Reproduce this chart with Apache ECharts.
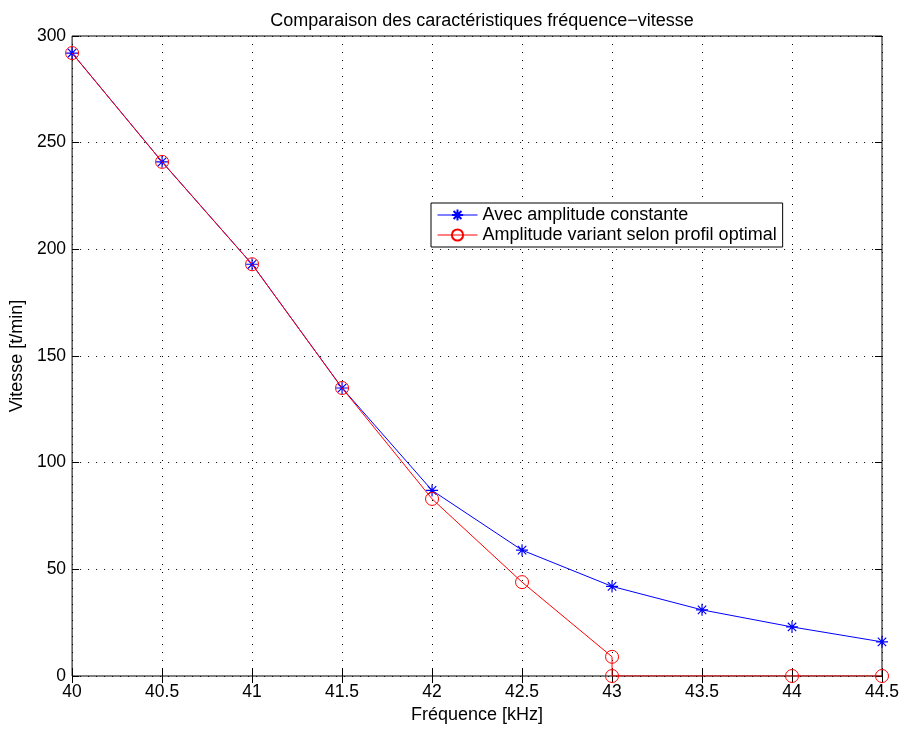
<!DOCTYPE html>
<html>
<head>
<meta charset="utf-8">
<script src="https://cdn.jsdelivr.net/npm/echarts@6/dist/echarts.min.js"></script>
<style>
  html, body { margin: 0; padding: 0; background: #fff; }
  #chart { width: 903px; height: 729px; }
</style>
</head>
<body>
<div id="chart"></div>
<script>
// Frequency (kHz) vs speed (t/min)
const freqConst = [40, 40.5, 41, 41.5, 42, 42.5, 43, 43.5, 44, 44.5];
const speedConst = [292, 241, 193, 135, 87, 59, 42, 31, 23, 16];

const freqOpt = [40, 40.5, 41, 41.5, 42, 42.5, 43, 43, 44, 44.5];
const speedOpt = [292, 241, 193, 135, 83, 44, 9, 0, 0, 0];

const xTicks = [40, 40.5, 41, 41.5, 42, 42.5, 43, 43.5, 44, 44.5];
const yTicks = [0, 50, 100, 150, 200, 250, 300];

const seriesNames = ['Avec amplitude constante', 'Amplitude variant selon profil optimal'];

const FONT = 'Liberation Sans, Arial, sans-serif';
const asterisk = 'path://M0,-10L0,10M-10,0L10,0M-7,-7L7,7M-7,7L7,-7';

const pairs = (xs, ys) => xs.map((x, i) => [x, ys[i]]);

const chart = echarts.init(document.getElementById('chart'), null, { renderer: 'canvas' });

const tickLabels = {
  color: '#000', fontFamily: FONT, fontSize: 17.5
};

chart.setOption({
  animation: false,
  backgroundColor: '#fff',
  title: {
    text: 'Comparaison des caractéristiques fréquence\u2212vitesse',
    left: 477, top: 7, textAlign: 'center',
    textStyle: { fontFamily: FONT, fontSize: 18, fontWeight: 'normal', color: '#000' }
  },
  grid: {
    left: 72, right: 21, top: 36, bottom: 53,
    show: true, borderColor: '#000', borderWidth: 1, backgroundColor: '#fff'
  },
  legend: {
    orient: 'vertical',
    left: 431, top: 203,
    padding: [3, 6, 3, 6],
    itemGap: 2,
    itemWidth: 40, itemHeight: 14,
    backgroundColor: '#fff',
    borderColor: '#000', borderWidth: 1,
    lineStyle: { width: 1 },
    textStyle: { fontFamily: FONT, fontSize: 18, color: '#000' },
    data: seriesNames
  },
  xAxis: [{
    type: 'value', min: 40, max: 44.5, interval: 0.5,
    name: 'Fréquence [kHz]', nameLocation: 'middle', nameGap: 29,
    nameTextStyle: { fontFamily: FONT, fontSize: 18, color: '#000' },
    axisLine: { show: false },
    axisTick: { show: true, inside: true, length: 7, lineStyle: { color: '#000' } },
    axisLabel: Object.assign({ margin: 7, formatter: v => String(v) }, tickLabels),
    splitLine: { show: true, lineStyle: { color: '#000', type: [1, 7], width: 1 } }
  }, {
    type: 'value', min: 40, max: 44.5, interval: 0.5, position: 'top',
    axisLine: { show: false },
    axisTick: { show: true, inside: true, length: 7, lineStyle: { color: '#000' } },
    axisLabel: { show: false },
    splitLine: { show: false }
  }],
  yAxis: [{
    type: 'value', min: 0, max: 300, interval: 50,
    name: 'Vitesse [t/min]', nameLocation: 'middle', nameGap: 42,
    nameTextStyle: { fontFamily: FONT, fontSize: 18, color: '#000' },
    axisLine: { show: false },
    axisTick: { show: true, inside: true, length: 7, lineStyle: { color: '#000' } },
    axisLabel: Object.assign({ margin: 6, padding: [4, 0, 0, 0] }, tickLabels),
    splitLine: { show: true, lineStyle: { color: '#000', type: [1, 7], width: 1 } }
  }, {
    type: 'value', min: 0, max: 300, interval: 50, position: 'right',
    axisLine: { show: false },
    axisTick: { show: true, inside: true, length: 7, lineStyle: { color: '#000' } },
    axisLabel: { show: false },
    splitLine: { show: false }
  }],
  series: [{
    name: seriesNames[0],
    type: 'line',
    data: pairs(freqConst, speedConst),
    symbol: asterisk, symbolSize: 12, showAllSymbol: true,
    lineStyle: { color: '#0000ff', width: 1 },
    itemStyle: { color: 'rgba(0,0,0,0)', borderColor: '#0000ff', borderWidth: 1.2 },
    z: 3
  }, {
    name: seriesNames[1],
    type: 'line',
    data: pairs(freqOpt, speedOpt),
    symbol: 'circle', symbolSize: 13, showAllSymbol: true,
    lineStyle: { color: '#ff0000', width: 1 },
    itemStyle: { color: 'rgba(0,0,0,0)', borderColor: '#ff0000', borderWidth: 1 },
    z: 4
  }]
});
</script>
</body>
</html>
